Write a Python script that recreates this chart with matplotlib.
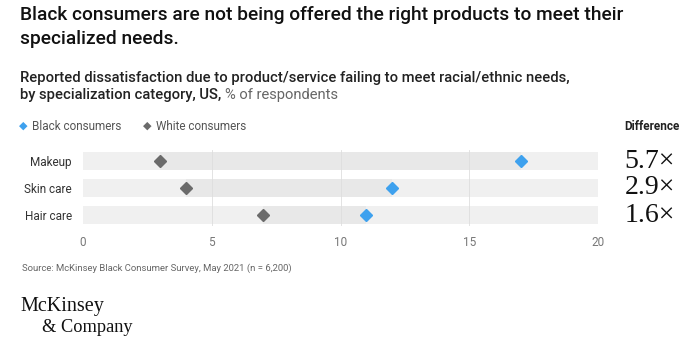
import numpy as np
import matplotlib
matplotlib.use('Agg')
import matplotlib.pyplot as plt

categories = ['Makeup', 'Skin care', 'Hair care']
black_vals = [17, 12, 11]
white_vals = [3, 4, 7]
differences = ['5.7×', '2.9×', '1.6×']
x_ticks = [0, 5, 10, 15, 20]

W, H = 692, 342
BLUE = '#3ea1ee'
GREY = '#6b6b6b'
plt.rcParams['font.family'] = ['Roboto', 'DejaVu Sans']

fig = plt.figure(figsize=(W / 100, H / 100), dpi=100)

def fx(px):
    return px / W

def fy(py):
    return 1 - py / H

# chart area
ax = fig.add_axes([fx(83), fy(226), fx(598) - fx(83), fy(150) - fy(226)])
y = np.arange(len(categories))
ax.barh(y, [20] * len(y), height=0.64, color='#f0f0f0', zorder=1)
lo = np.minimum(black_vals, white_vals)
hi = np.maximum(black_vals, white_vals)
ax.barh(y, hi - lo, left=lo, height=0.64, color='#e8e8e8', zorder=2)
for t in x_ticks[1:-1]:
    ax.axvline(t, color='#dedede', lw=0.6, zorder=3)
ax.plot(white_vals, y, 'D', color=GREY, ms=6, zorder=4, ls='none')
ax.plot(black_vals, y, 'D', color=BLUE, ms=6, zorder=4, ls='none')
ax.set_xlim(0, 20)
ax.set_ylim(2.4, -0.4)
ax.set_xticks(x_ticks)
ax.set_xticklabels([str(t) for t in x_ticks], fontsize=8.5, color='#777777')
ax.set_yticks(y)
ax.set_yticklabels(categories, fontsize=8.5, color='#333333')
ax.tick_params(length=0)
ax.tick_params(axis='x', pad=7)
ax.tick_params(axis='y', pad=8)
for s in ax.spines.values():
    s.set_visible(False)

# difference column
fig.text(fx(680), fy(127), 'Difference', fontsize=8.5, fontweight='bold',
         color='#222222', ha='right', va='center')
for i, d in enumerate(differences):
    fig.text(fx(650), fy(161 + 27 * i), d, fontsize=20, family='Liberation Serif',
             color='#111111', ha='center', va='center')

# titles
fig.text(fx(20), fy(15), 'Black consumers are not being offered the right products to meet their',
         fontsize=13.8, fontweight='medium', color='#111111', va='center')
fig.text(fx(20), fy(39), 'specialized needs.',
         fontsize=13.8, fontweight='medium', color='#111111', va='center')
fig.text(fx(20), fy(78), 'Reported dissatisfaction due to product/service failing to meet racial/ethnic needs,',
         fontsize=10.6, fontweight='medium', color='#222222', va='center')
t = fig.text(fx(20), fy(95), 'by specialization category, US, ',
             fontsize=10.6, fontweight='medium', color='#222222', va='center')
fig.canvas.draw()
bb = t.get_window_extent()
fig.text(bb.x1 / W, fy(95), '% of respondents', fontsize=10.6, color='#666666', va='center')

# legend
fig.text(fx(23), fy(126), '◆', fontsize=8, color=BLUE, ha='center', va='center', family='DejaVu Sans')
fig.text(fx(32), fy(126), 'Black consumers', fontsize=8.5, color='#555555', va='center')
fig.text(fx(147), fy(126), '◆', fontsize=8, color=GREY, ha='center', va='center', family='DejaVu Sans')
fig.text(fx(156), fy(126), 'White consumers', fontsize=8.5, color='#555555', va='center')

# footer
fig.text(fx(22), fy(268), 'Source: McKinsey Black Consumer Survey, May 2021 (n = 6,200)',
         fontsize=6.8, color='#666666', va='center')
fig.text(fx(20), fy(307), 'McKinsey', fontsize=14.5, family='Liberation Serif',
         color='#111111', va='center')
fig.text(fx(42), fy(327), '& Company', fontsize=13.2, family='Liberation Serif',
         color='#111111', va='center')

fig.savefig('out.png', dpi=100, facecolor='white')
